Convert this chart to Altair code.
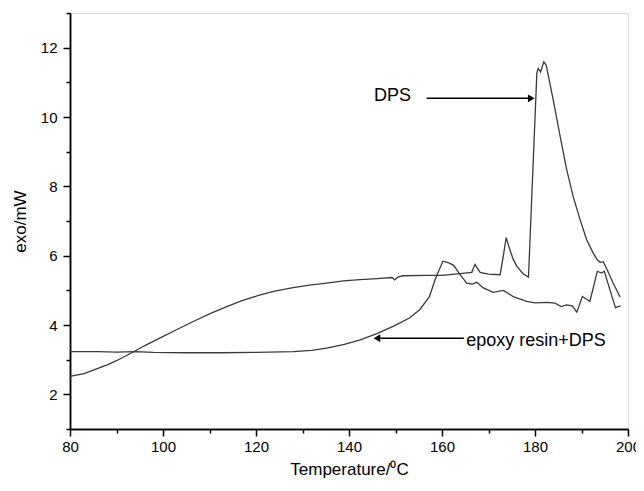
import altair as alt
import pandas as pd

# epoxy resin + DPS curve
epoxy_x = [80, 86, 90, 94, 98, 105, 112, 120, 128, 132, 135.2, 139, 142.4, 146, 149.5, 153, 155.2,
           157.3, 158.5, 159.1, 160.2, 161.5, 162.5, 163.9, 165.3, 166.5, 167.5, 168.9, 171, 173.2,
           175.3, 178.2, 180, 182.5, 184.3, 185.6, 186.8, 188, 189, 190.2, 191.8, 193.4, 194.3,
           194.9, 196.1, 197.3, 198.4]
epoxy_y = [3.23, 3.23, 3.22, 3.23, 3.21, 3.2, 3.2, 3.21, 3.23, 3.27, 3.33, 3.44, 3.57, 3.75, 3.96, 4.2, 4.44,
           4.82, 5.3, 5.5, 5.84, 5.79, 5.72, 5.45, 5.21, 5.18, 5.23, 5.07, 4.94, 5.0,
           4.82, 4.68, 4.64, 4.65, 4.63, 4.53, 4.58, 4.55, 4.37, 4.82, 4.68, 5.55, 5.5,
           5.55, 5.02, 4.5, 4.55]

# DPS curve
dps_x = [80, 83, 85, 88, 90, 93.6, 96, 99.4, 103, 106.5, 110, 113.7, 117, 120.9, 124, 128, 131.5, 135.2,
         138.8, 142.4, 146, 149.3, 149.8, 150.5, 151.6, 156.7, 160, 163.9, 166.4, 167.1, 168.2, 170,
         172.5, 173.2, 173.8, 174.6, 175.3, 176.1, 177.5, 178.6, 180.4, 180.7, 181.2, 181.9, 182.4,
         183.9, 185.4, 186.8, 188.2, 189.7, 191.1, 192.5, 193.4, 194, 194.7, 195.5, 196.8, 198.3]
dps_y = [2.52, 2.6, 2.7, 2.85, 2.97, 3.22, 3.4, 3.63, 3.87, 4.1, 4.32, 4.53, 4.7, 4.87, 4.98, 5.08, 5.15, 5.21,
         5.27, 5.31, 5.34, 5.37, 5.3, 5.38, 5.42, 5.43, 5.43, 5.48, 5.52, 5.75, 5.52, 5.47,
         5.45, 6.0, 6.52, 6.17, 5.9, 5.69, 5.47, 5.38, 11.28, 11.4, 11.3, 11.59, 11.5,
         10.51, 9.45, 8.49, 7.71, 7.04, 6.46, 6.08, 5.88, 5.81, 5.82, 5.6, 5.21, 4.81]

x_major = list(range(80, 201, 20))
x_minor = list(range(90, 200, 20))
y_major = list(range(2, 13, 2))
y_minor = list(range(1, 14, 2))

# annotations
label_text = ["DPS", "epoxy resin+DPS"]
label_x = [145.4, 165.2]
label_y = [10.62, 3.54]
arrow_x1 = [156.7, 146.0]
arrow_x2 = [179.2, 164.7]
arrow_y = [10.54, 3.62]
arrow_shape = ["triangle-right", "triangle-left"]
arrow_head_x = [179.2, 146.0]

rows = [{"T": x, "v": y, "s": "epoxy resin+DPS"} for x, y in zip(epoxy_x, epoxy_y)]
rows += [{"T": x, "v": y, "s": "DPS"} for x, y in zip(dps_x, dps_y)]
df = pd.DataFrame(rows)

ann = pd.DataFrame({"text": label_text, "x": label_x, "y": label_y})
arr = pd.DataFrame({"x1": arrow_x1, "x2": arrow_x2, "y": arrow_y,
                    "hx": arrow_head_x, "shape": arrow_shape})

FONT = "Liberation Sans"

xscale = alt.Scale(domain=[80, 200], nice=False, zero=False)
yscale = alt.Scale(domain=[1, 13], nice=False, zero=False)

common = dict(grid=False, labelFont=FONT, titleFont=FONT, titleFontWeight="normal",
              labelColor="black", titleColor="black", tickColor="black", tickWidth=1.5,
              domainColor="black", domainWidth=1.5, labelFlush=False, labelOverlap=False)

xaxis = alt.Axis(values=x_major, title="Temperature/\u2070C", orient="bottom", tickSize=7,
                 labelFontSize=15, titleFontSize=17, labelPadding=3, titlePadding=7, **common)
yaxis = alt.Axis(values=y_major, title="exo/mW", orient="left", tickSize=7,
                 labelFontSize=15, titleFontSize=17, labelPadding=6, titlePadding=11, **common)
xaxis_minor = alt.Axis(values=x_minor, title=None, orient="bottom", tickSize=4, labels=False,
                       **common)
yaxis_minor = alt.Axis(values=y_minor, title=None, orient="left", tickSize=4, labels=False,
                       **common)

lines = alt.Chart(df).mark_line(color="#3a3a3a", strokeWidth=1.3).encode(
    x=alt.X("T:Q", scale=xscale, axis=xaxis),
    y=alt.Y("v:Q", scale=yscale, axis=yaxis),
    detail="s:N",
    order="T:Q",
)

minor = alt.Chart(df).mark_point(opacity=0, size=1).encode(
    x=alt.X("T:Q", scale=xscale, axis=xaxis_minor),
    y=alt.Y("v:Q", scale=yscale, axis=yaxis_minor),
)

texts = alt.Chart(ann).mark_text(align="left", baseline="middle", fontSize=18,
                                 font=FONT, color="black").encode(
    x=alt.X("x:Q", scale=xscale, axis=None), y=alt.Y("y:Q", scale=yscale, axis=None),
    text="text:N")

rules = alt.Chart(arr).mark_rule(color="black", strokeWidth=1.5).encode(
    x=alt.X("x1:Q", scale=xscale, axis=None), x2="x2:Q",
    y=alt.Y("y:Q", scale=yscale, axis=None))

heads = alt.Chart(arr).mark_point(filled=True, color="black", size=60, opacity=1).encode(
    x=alt.X("hx:Q", scale=xscale, axis=None), y=alt.Y("y:Q", scale=yscale, axis=None),
    shape=alt.Shape("shape:N", scale=None))

chart = alt.layer(lines, minor, rules, heads, texts).resolve_axis(
    x="independent", y="independent"
).properties(
    width=558, height=416,
    autosize=alt.AutoSizeParams(type="none"),
    padding={"left": 62, "top": 5, "right": 8, "bottom": 54},
).configure_view(stroke="black", strokeWidth=1.5).configure(background="white")

chart.save("out.html", embed_options={"renderer": "svg", "actions": False})
